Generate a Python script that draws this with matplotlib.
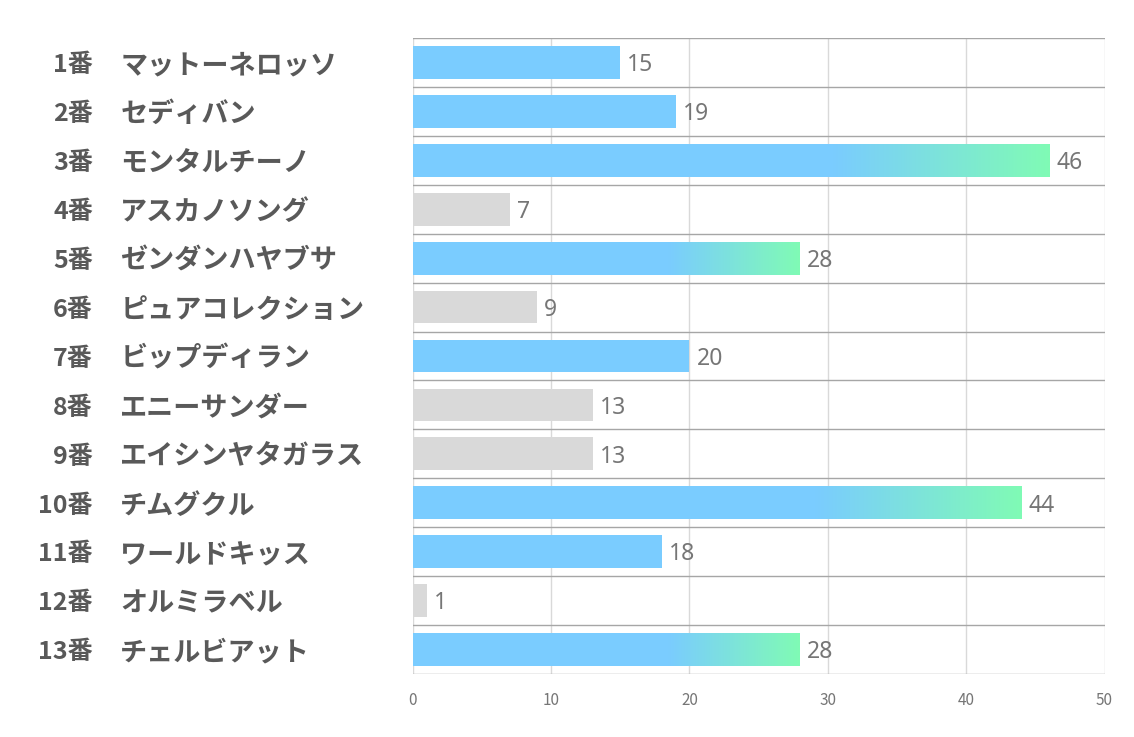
import numpy as np
import matplotlib
matplotlib.use('Agg')
import matplotlib.pyplot as plt
from matplotlib.colors import LinearSegmentedColormap
import matplotlib.transforms as mtransforms

plt.rcParams['font.family'] = ['Noto Sans CJK JP', 'DejaVu Sans']

numbers = ['1番', '2番', '3番', '4番', '5番', '6番', '7番', '8番', '9番',
           '10番', '11番', '12番', '13番']
names = ['マットーネロッソ', 'セディバン', 'モンタルチーノ', 'アスカノソング',
         'ゼンダンハヤブサ', 'ピュアコレクション', 'ビップディラン', 'エニーサンダー',
         'エイシンヤタガラス', 'チムグクル', 'ワールドキッス', 'オルミラベル',
         'チェルビアット']
values = [15, 19, 46, 7, 28, 9, 20, 13, 13, 44, 18, 1, 28]
grey_rows = [4, 6, 8, 9, 12]          # horse numbers drawn in grey
gradient_rows = [3, 5, 10, 13]        # blue bars fading to green
xticks = [0, 10, 20, 30, 40, 50]

BLUE = '#7ACCFF'
GREEN = '#80FBB5'
GREY = '#D9D9D9'
TEXT = '#595959'
VAL = '#767676'

fig = plt.figure(figsize=(11.34, 7.37), dpi=100)
ax = fig.add_axes([0.364, 0.0855, 0.61, 0.863])

n = len(values)
ys = np.arange(n)
h = 0.67
cmap = LinearSegmentedColormap.from_list('bg', [BLUE, GREEN])
grad = np.linspace(0, 1, 256).reshape(1, -1)

for i, v in enumerate(values):
    num = i + 1
    color = GREY if num in grey_rows else BLUE
    ax.barh(ys[i], v, height=h, color=color, zorder=2)
    if num in gradient_rows:
        ax.imshow(grad, cmap=cmap, aspect='auto', zorder=3,
                  extent=[0.66 * v, v, ys[i] + h / 2, ys[i] - h / 2],
                  interpolation='bicubic')
    ax.annotate(str(v), xy=(v, ys[i]), xytext=(5, -2), textcoords='offset points',
                va='center', ha='left', fontsize=16.5, color=VAL, zorder=4,
                family='Noto Sans')

ax.set_xlim(0, 50)
ax.set_ylim(n - 0.5, -0.5)
ax.set_yticks([])
ax.set_xticks(xticks)
ax.tick_params(axis='x', length=0, labelsize=11, labelcolor=VAL, pad=13)

for x in xticks:
    ax.axvline(x, color='#D9D9D9', lw=1, zorder=1)
for b in np.arange(-0.5, n, 1.0):
    ax.axhline(b, color='#A6A6A6', lw=1, zorder=1)
for s in ax.spines.values():
    s.set_visible(False)

trans = mtransforms.blended_transform_factory(fig.transFigure, ax.transData)
trans = trans + mtransforms.ScaledTranslation(0, -2 / 72, fig.dpi_scale_trans)
for i in range(n):
    fig.text(0.082, ys[i], numbers[i], transform=trans, ha='right', va='center',
             fontsize=18, fontweight='bold', color=TEXT)
    fig.text(0.106, ys[i], names[i], transform=trans, ha='left', va='center',
             fontsize=19.5, fontweight='bold', color=TEXT)

fig.savefig('out.png', dpi=100)
